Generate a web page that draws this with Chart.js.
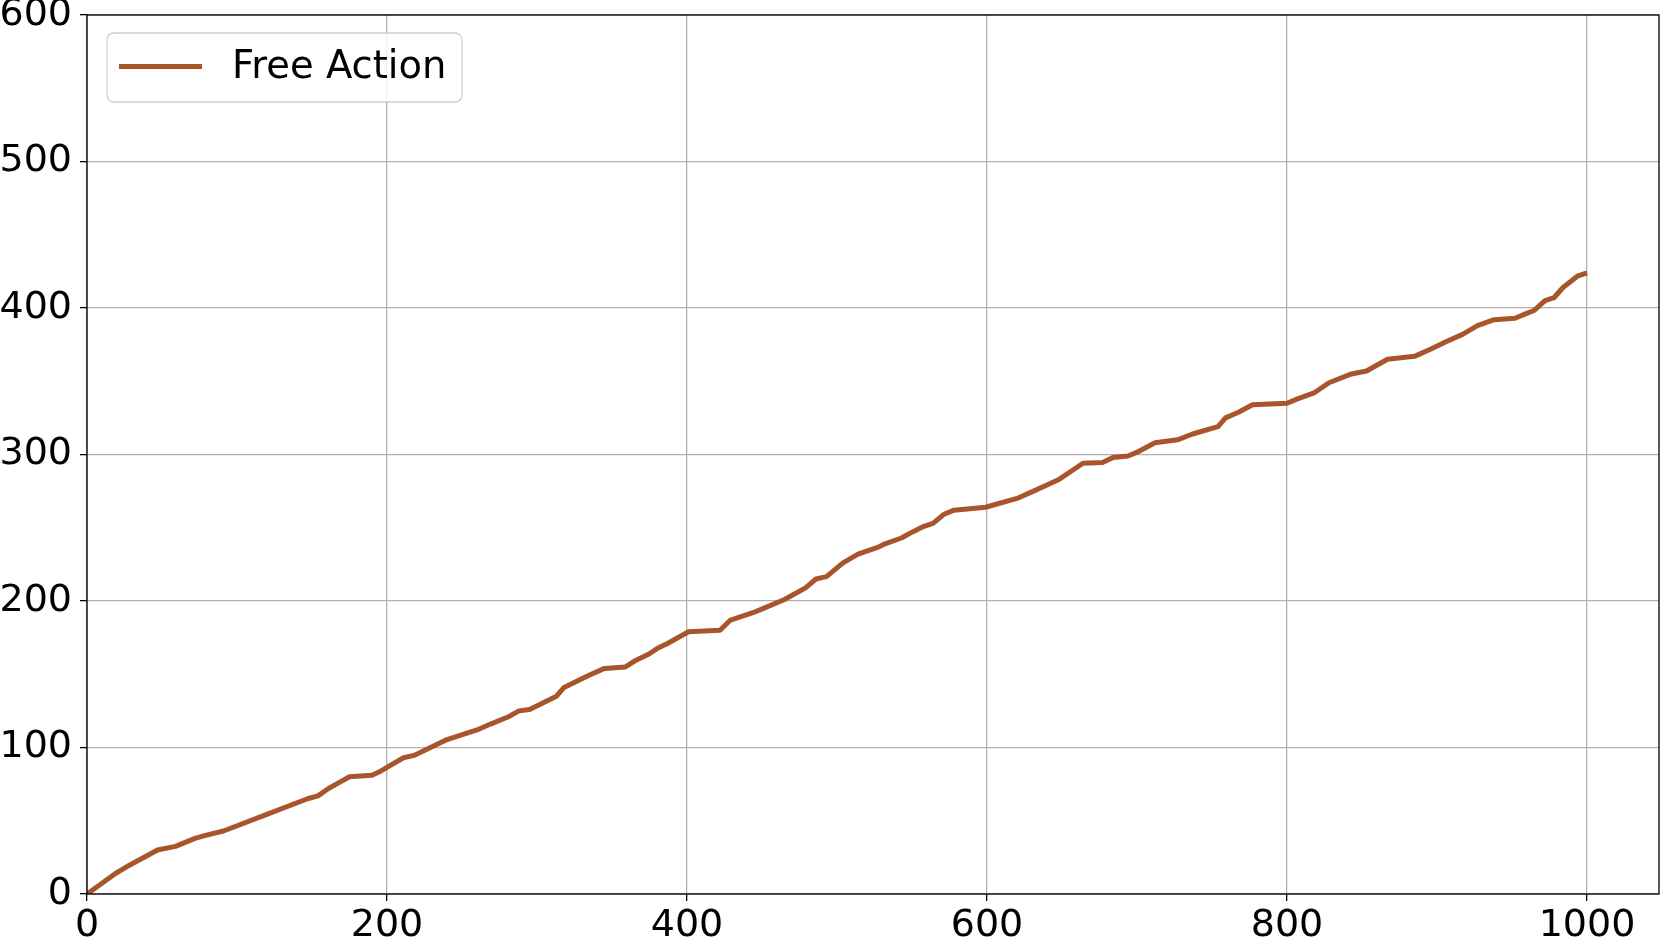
<!DOCTYPE html>
<html>
<head>
<meta charset="utf-8">
<script src="https://cdn.jsdelivr.net/npm/chart.js@4.4.1/dist/chart.umd.min.js"></script>
<style>
  html, body { margin: 0; padding: 0; background: #fff; }
  #wrap { width: 1660px; height: 944px; }
</style>
</head>
<body>
<div id="wrap"><canvas id="chart" width="1660" height="944"></canvas></div>
<script>
// values
const steps = [0, 19, 28, 47, 59, 72, 79, 91, 119, 147, 154, 161, 168, 175, 190, 196, 211, 218, 239, 260, 269, 281, 288, 295, 313, 318, 334, 345, 359, 365, 375, 380, 387, 401, 422, 429, 444, 451, 465, 479, 486, 493, 504, 514, 528, 532, 543, 550, 558, 564, 571, 578, 599, 620, 631, 648, 664, 677, 684, 694, 701, 712, 727, 737, 754, 759, 768, 777, 800, 807, 818, 828, 843, 853, 867, 885, 896, 906, 917, 927, 938, 952, 959, 965, 972, 978, 984, 994, 1000];
const freeAction = [0, 14, 19.5, 30, 32.5, 38, 40, 43, 54, 65, 67, 72, 76, 80, 81, 84, 93, 94.6, 105, 112, 116, 121, 125, 126, 135, 141, 149, 154, 155, 159, 164, 167.5, 171, 179, 180, 187, 192, 195, 201, 209, 215, 216.6, 226, 232, 237, 239, 243, 247, 251, 253, 259, 262, 264, 270, 275, 283, 294, 294.6, 298, 299, 302, 308, 310, 314, 319, 325, 329, 334, 335, 338, 342, 349, 355, 357, 365, 367, 372, 377, 382, 388, 392, 393, 396, 398.5, 405, 407, 414, 422, 424];
const xTicks = [0, 200, 400, 600, 800, 1000];
const yTicks = [0, 100, 200, 300, 400, 500, 600];

const FONT = "DejaVu Sans";
const LINE_COLOR = "#A9552B";

const points = steps.map((s, i) => ({ x: s, y: freeAction[i] }));

// box round the plot area
const frame = {
  id: "frame",
  afterDatasetsDraw(chart) {
    const { ctx, chartArea: a } = chart;
    ctx.save();
    ctx.strokeStyle = "#000";
    ctx.lineWidth = 1.3;
    ctx.strokeRect(a.left, a.top, a.right - a.left, a.bottom - a.top);
    ctx.restore();
  },
};

// matplotlib-like legend in upper left
const innerLegend = {
  id: "innerLegend",
  afterDraw(chart) {
    const { ctx, chartArea: a } = chart;
    const ds = chart.data.datasets[0];
    const x = a.left + 20, y = a.top + 18, w = 355, h = 69, r = 7;
    ctx.save();
    ctx.beginPath();
    ctx.roundRect(x, y, w, h, r);
    ctx.fillStyle = "rgba(255,255,255,0.8)";
    ctx.fill();
    ctx.strokeStyle = "#d0d0d0";
    ctx.lineWidth = 1.3;
    ctx.stroke();
    const cy = y + h / 2 - 1;
    ctx.beginPath();
    ctx.moveTo(x + 12, cy);
    ctx.lineTo(x + 95, cy);
    ctx.strokeStyle = ds.borderColor;
    ctx.lineWidth = ds.borderWidth;
    ctx.stroke();
    ctx.fillStyle = "#000";
    ctx.font = "38.5px '" + FONT + "'";
    ctx.textBaseline = "middle";
    ctx.fillText(ds.label, x + 125, cy + 1);
    ctx.restore();
  },
};

new Chart(document.getElementById("chart"), {
  type: "line",
  data: {
    datasets: [{
      label: "Free Action",
      data: points,
      borderColor: LINE_COLOR,
      borderWidth: 5,
      borderJoinStyle: "round",
      pointRadius: 0,
      tension: 0,
      fill: false,
    }],
  },
  options: {
    responsive: false,
    animation: false,
    devicePixelRatio: 1,
    layout: { padding: { top: 15, right: 1, left: 0, bottom: 0 } },
    plugins: { legend: { display: false }, tooltip: { enabled: false } },
    scales: {
      x: {
        type: "linear",
        min: 0,
        max: 1048,
        afterBuildTicks: (s) => { s.ticks = xTicks.map((v) => ({ value: v })); },
        afterFit: (s) => { s.height = 50; s.paddingLeft = 0; s.paddingRight = 0; },
        ticks: { color: "#000", font: { family: FONT, size: 38 }, padding: 2, maxRotation: 0, callback: (v) => String(v) },
        grid: { color: "#b0b0b0", lineWidth: 1.3, tickColor: "#000", tickLength: 7, drawTicks: true },
        border: { display: false },
      },
      y: {
        type: "linear",
        min: 0,
        max: 600,
        afterBuildTicks: (s) => { s.ticks = yTicks.map((v) => ({ value: v })); },
        afterFit: (s) => { s.width = 87; s.paddingTop = 0; s.paddingBottom = 0; },
        ticks: { color: "#000", font: { family: FONT, size: 38 }, padding: 8, callback: (v) => String(v) },
        grid: { color: "#b0b0b0", lineWidth: 1.3, tickColor: "#000", tickLength: 7, drawTicks: true },
        border: { display: false },
      },
    },
  },
  plugins: [frame, innerLegend],
});
</script>
</body>
</html>
